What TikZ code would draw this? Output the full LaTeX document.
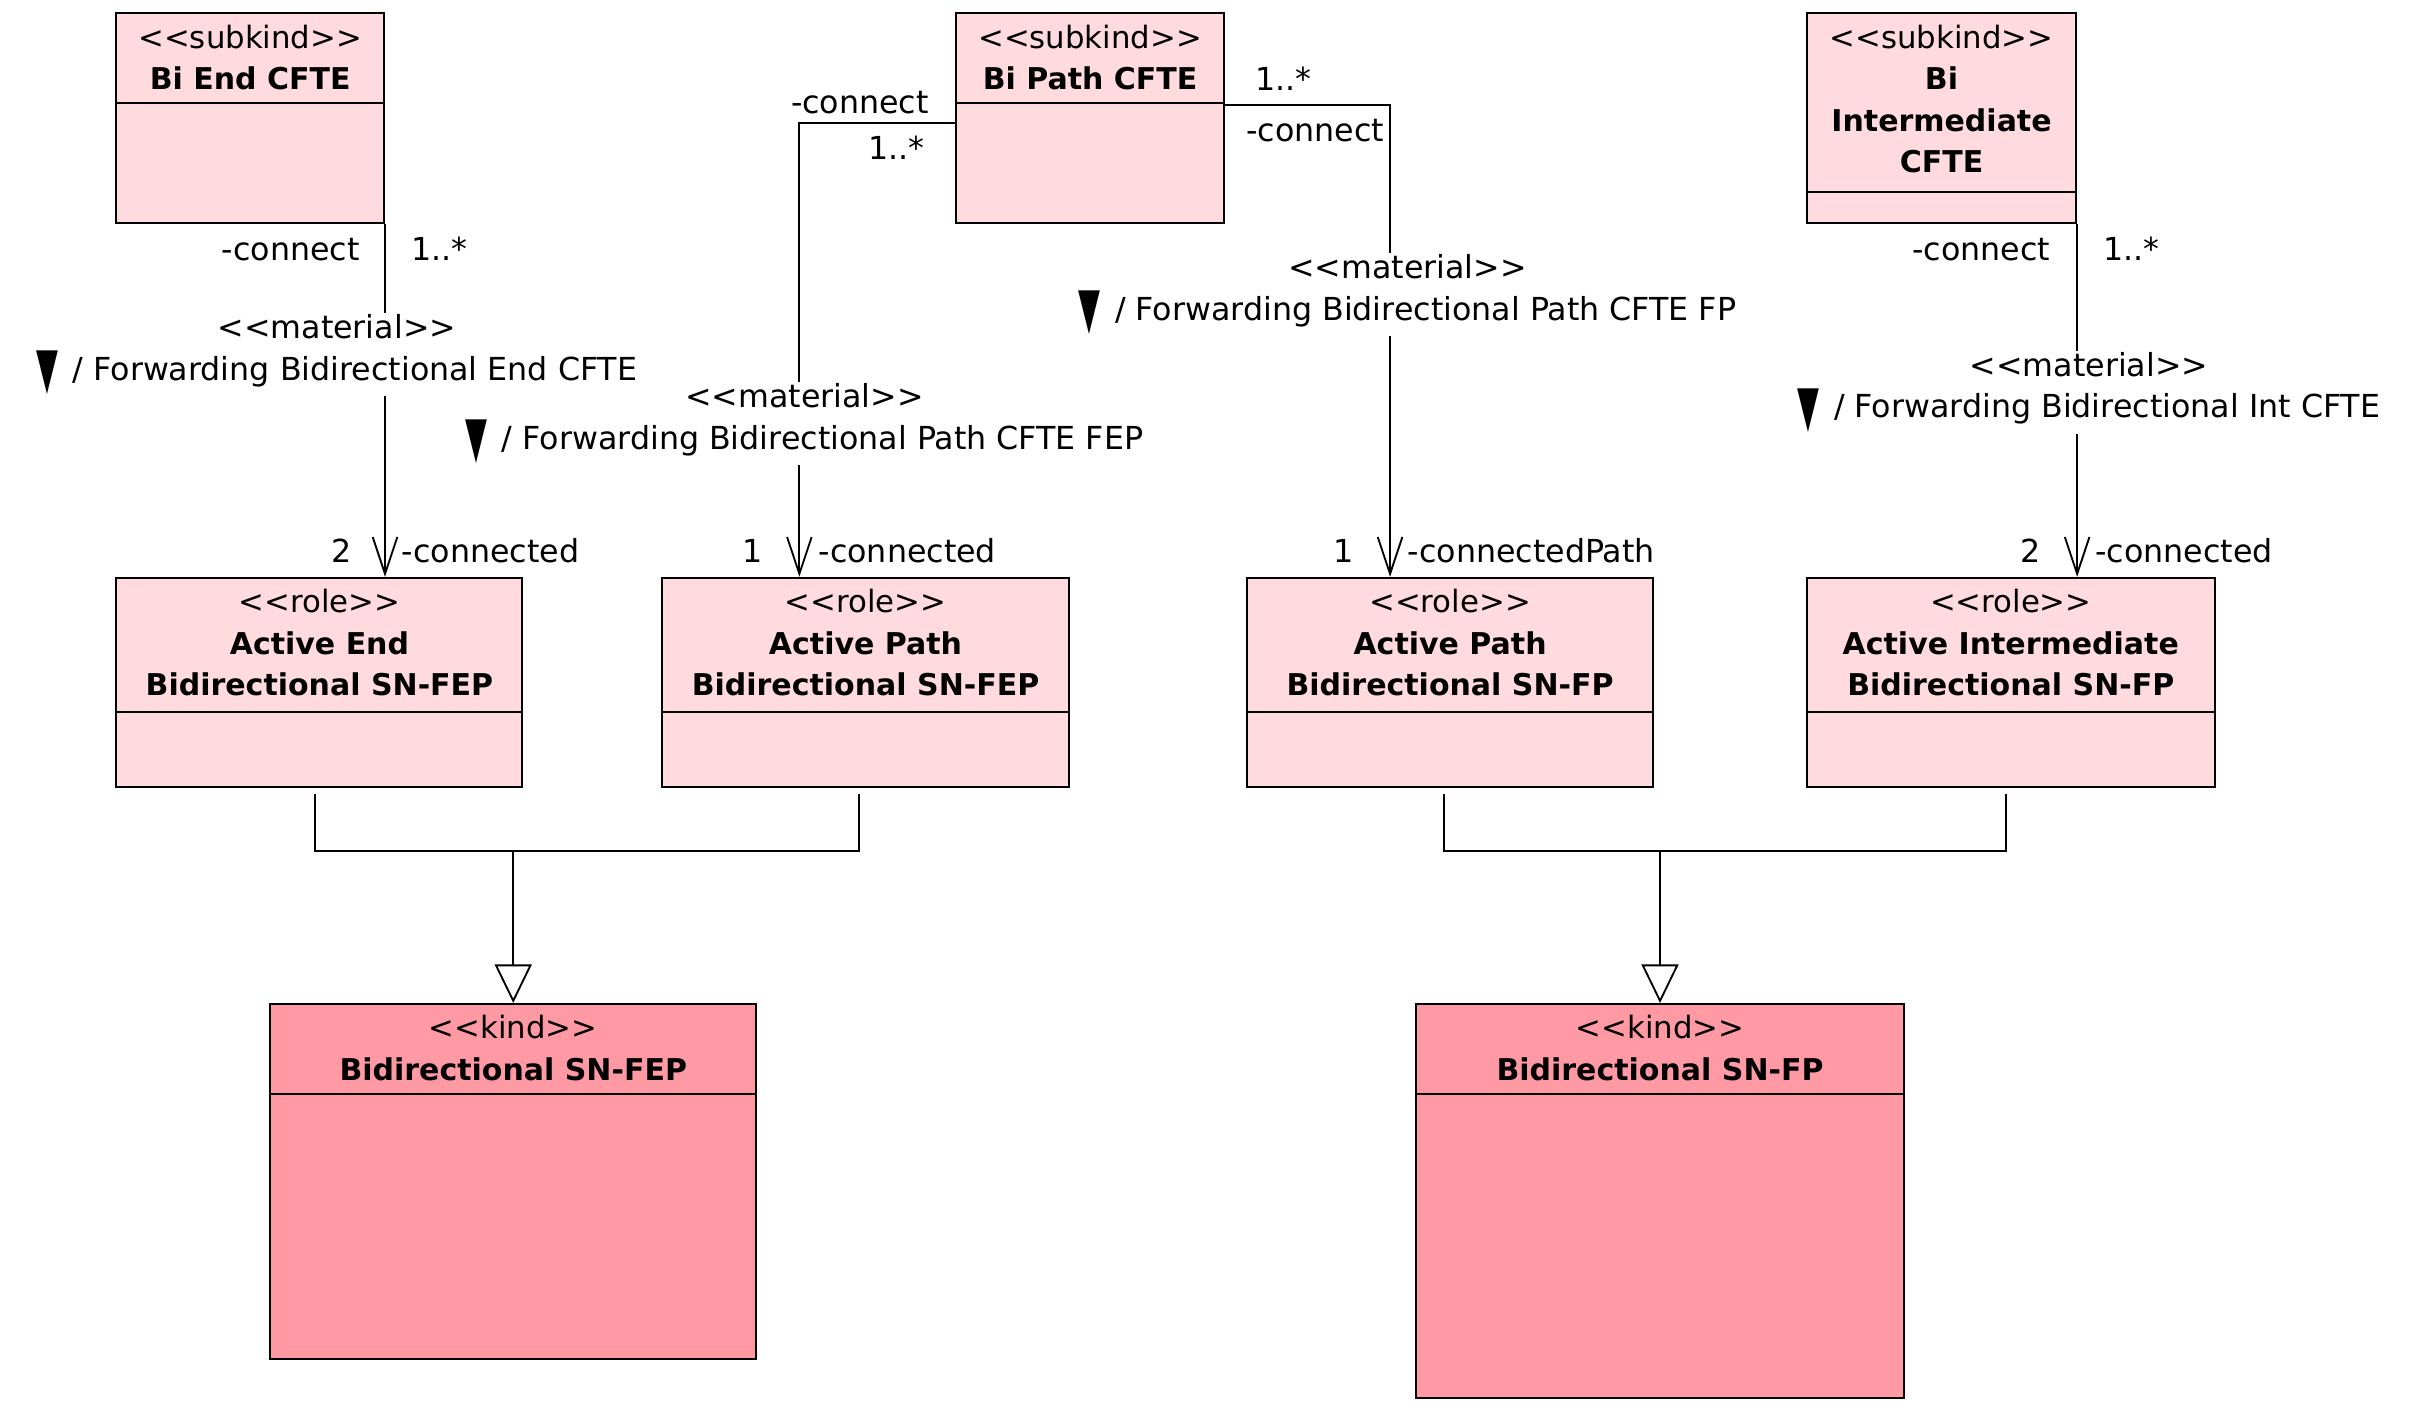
\documentclass[tikz,border=0pt]{standalone}
\usepackage{fontspec}
\setmainfont{DejaVu Sans}
\usetikzlibrary{arrows.meta}

\definecolor{palepink}{RGB}{255,218,222}
\definecolor{kindpink}{RGB}{255,153,163}
\newcommand{\stereotxt}[1]{<\kern0pt<#1>\kern0pt>}
\newcommand{\titletxt}[1]{{\fontsize{19.5}{27}\selectfont\bfseries #1}}
\newcommand{\navtri}{\raisebox{-5pt}{\scalebox{0.9}[1.8]{▼}}\hspace{0.45em}}

\tikzset{
  umlbox/.style={draw, line width=1.3pt, anchor=north west, inner sep=0pt},
  headtxt/.style={anchor=north, align=center, inner sep=0pt, font=\fontsize{20}{27}\selectfont},
  lbl/.style={inner sep=1pt, font=\fontsize{20.6}{27}\selectfont},
  matlbl/.style={lbl, fill=white, align=center},
  assoc/.style={line width=1.2pt, -{Straight Barb[length=24pt,width=16pt]}},
  genline/.style={line width=1.2pt},
  gen/.style={line width=1.2pt, -{Triangle[length=25pt,width=24pt,fill=white]}}
}

\begin{document}
\begin{tikzpicture}[x=1pt,y=-1pt]
    \useasboundingbox (0,0) rectangle (1568,917);
    % subkinds
    \node[umlbox, fill=palepink, minimum width=174pt, minimum height=136pt] (endcfte) at (75,8) {};
    \node[umlbox, fill=palepink, minimum width=174pt, minimum height=136pt] (pathcfte) at (621,8) {};
    \node[umlbox, fill=palepink, minimum width=175pt, minimum height=136pt] (intcfte) at (1174,8) {};
    % roles
    \node[umlbox, fill=palepink, minimum width=264pt, minimum height=136pt] (actend) at (75,375) {};
    \node[umlbox, fill=palepink, minimum width=264pt, minimum height=136pt] (actpathfep) at (430,375) {};
    \node[umlbox, fill=palepink, minimum width=264pt, minimum height=136pt] (actpathfp) at (810,375) {};
    \node[umlbox, fill=palepink, minimum width=265pt, minimum height=136pt] (actint) at (1174,375) {};
    % kinds
    \node[umlbox, fill=kindpink, minimum width=316pt, minimum height=231pt] (snfep) at (175,652) {};
    \node[umlbox, fill=kindpink, minimum width=317pt, minimum height=256pt] (snfp) at (920,652) {};

    % compartments
    \foreach \b/\y in {endcfte/67,pathcfte/67,intcfte/125,actend/463,actpathfep/463,actpathfp/463,actint/463,snfep/711,snfp/711}
        \draw[line width=1.3pt] (\b.west |- 0,\y) -- (\b.east |- 0,\y);

    \node[headtxt] (endcftet) at ([yshift=-8pt]endcfte.north) {\stereotxt{subkind}\\\titletxt{Bi End CFTE}};
    \node[headtxt] (pathcftet) at ([yshift=-8pt]pathcfte.north) {\stereotxt{subkind}\\\titletxt{Bi Path CFTE}};
    \node[headtxt] (intcftet) at ([yshift=-8pt]intcfte.north) {\stereotxt{subkind}\\\titletxt{Bi}\\\titletxt{Intermediate}\\\titletxt{CFTE}};
    \node[headtxt] (actendt) at ([yshift=-8pt]actend.north) {\stereotxt{role}\\\titletxt{Active End}\\\titletxt{Bidirectional SN-FEP}};
    \node[headtxt] (actpathfept) at ([yshift=-8pt]actpathfep.north) {\stereotxt{role}\\\titletxt{Active Path}\\\titletxt{Bidirectional SN-FEP}};
    \node[headtxt] (actpathfpt) at ([yshift=-8pt]actpathfp.north) {\stereotxt{role}\\\titletxt{Active Path}\\\titletxt{Bidirectional SN-FP}};
    \node[headtxt] (actintt) at ([yshift=-8pt]actint.north) {\stereotxt{role}\\\titletxt{Active Intermediate}\\\titletxt{Bidirectional SN-FP}};
    \node[headtxt] (snfept) at ([yshift=-8pt]snfep.north) {\stereotxt{kind}\\\titletxt{Bidirectional SN-FEP}};
    \node[headtxt] (snfpt) at ([yshift=-8pt]snfp.north) {\stereotxt{kind}\\\titletxt{Bidirectional SN-FP}};

    % generalizations
    \coordinate (fepjoin) at (snfep.north |- 0,553);
    \coordinate (fpjoin) at (snfp.north |- 0,553);
    \draw[genline] ([xshift=-3pt,yshift=-4pt]actend.south) |- (fepjoin) -| ([xshift=-4pt,yshift=-4pt]actpathfep.south);
    \draw[gen] (fepjoin) -- (snfep.north);
    \draw[genline] ([xshift=-4pt,yshift=-4pt]actpathfp.south) |- (fpjoin) -| ([xshift=-3pt,yshift=-4pt]actint.south);
    \draw[gen] (fpjoin) -- (snfp.north);

    % material relations
    \draw[assoc] (endcfte.south east) -- (actend.north -| endcfte.east);
    \draw[assoc] (pathcfte.west |- 0,80) -| ([xshift=-43pt]actpathfep.north);
    \draw[assoc] (pathcfte.east |- 0,68.5) -| ([xshift=-39pt]actpathfp.north);
    \draw[assoc] (intcfte.south east) -- (actint.north -| intcfte.east);

    \node[matlbl] (endmat) at (219,230.5) {\stereotxt{material}\\\navtri/ Forwarding Bidirectional End CFTE};
    \node[matlbl] (fepmat) at (523,275.5) {\stereotxt{material}\\\navtri/ Forwarding Bidirectional Path CFTE FEP};
    \node[matlbl] (fpmat) at (915,191.5) {\stereotxt{material}\\\navtri/ Forwarding Bidirectional Path CFTE FP};
    \node[matlbl] (intmat) at (1358,255) {\stereotxt{material}\\\navtri/ Forwarding Bidirectional Int CFTE};

    % role names and multiplicities
    \node[lbl, anchor=east] (endsrc) at (235,162) {-connect};
    \node[lbl, anchor=west] (endsrcm) at (266,162) {1..*};
    \node[lbl, anchor=east] (endtgtm) at (230,358) {2};
    \node[lbl, anchor=west] (endtgt) at (260,358) {-connected};

    \node[lbl, anchor=east] (fepsrc) at (605,67) {-connect};
    \node[lbl, anchor=east] (fepsrcm) at (602,96) {1..*};
    \node[lbl, anchor=east] (feptgtm) at (497,358) {1};
    \node[lbl, anchor=west] (feptgt) at (531,358) {-connected};

    \node[lbl, anchor=west] (fpsrcm) at (815,51) {1..*};
    \node[lbl, anchor=west] (fpsrc) at (809,85) {-connect};
    \node[lbl, anchor=east] (fptgtm) at (881,358) {1};
    \node[lbl, anchor=west] (fptgt) at (914,358) {-connectedPath};

    \node[lbl, anchor=east] (intsrc) at (1334,162) {-connect};
    \node[lbl, anchor=west] (intsrcm) at (1366,162) {1..*};
    \node[lbl, anchor=east] (inttgtm) at (1328,358) {2};
    \node[lbl, anchor=west] (inttgt) at (1361,358) {-connected};
\end{tikzpicture}
\end{document}
